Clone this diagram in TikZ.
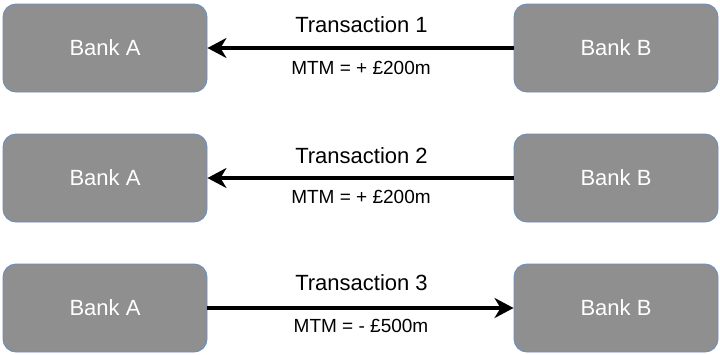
\documentclass[tikz,border=0pt]{standalone}
\usepackage{fontspec}
\setmainfont{Liberation Sans}
\usetikzlibrary{arrows.meta}
\definecolor{boxfill}{HTML}{8F8F8F}
\definecolor{boxline}{HTML}{6C8EBF}
\tikzset{
  bank/.style={draw=boxline, fill=boxfill, line width=0.9pt, rounded corners=13pt,
    minimum width=204pt, minimum height=88pt, inner sep=0pt, text=white,
    font=\fontsize{22pt}{26pt}\selectfont},
  flow/.style={line width=3.5pt, -{Stealth[length=19pt,width=20pt,inset=6pt]}},
  tlabel/.style={font=\fontsize{22pt}{26pt}\selectfont, text=black},
  mlabel/.style={font=\fontsize{19pt}{23pt}\selectfont, text=black}
}
\begin{document}
\begin{tikzpicture}[x=1pt,y=-1pt]
\useasboundingbox (0,0) rectangle (720,354);
% row 1
\node[bank] (a1) at (105,48) {Bank A};
\node[bank] (b1) at (616,48) {Bank B};
\draw[flow] (b1.west) -- (a1.east);
\node[tlabel] (t1) at (361.5,25) {Transaction 1};
\node[mlabel] (m1) at (361,68) {MTM = + £200m};
% row 2
\node[bank] (a2) at (105,178) {Bank A};
\node[bank] (b2) at (616,178) {Bank B};
\draw[flow] (b2.west) -- (a2.east);
\node[tlabel] (t2) at (361.5,156) {Transaction 2};
\node[mlabel] (m2) at (361,197) {MTM = + £200m};
% row 3
\node[bank] (a3) at (105,308) {Bank A};
\node[bank] (b3) at (616,308) {Bank B};
\draw[flow] (a3.east) -- (b3.west);
\node[tlabel] (t3) at (361.5,283) {Transaction 3};
\node[mlabel] (m3) at (361,326) {MTM = - £500m};
\end{tikzpicture}
\end{document}
